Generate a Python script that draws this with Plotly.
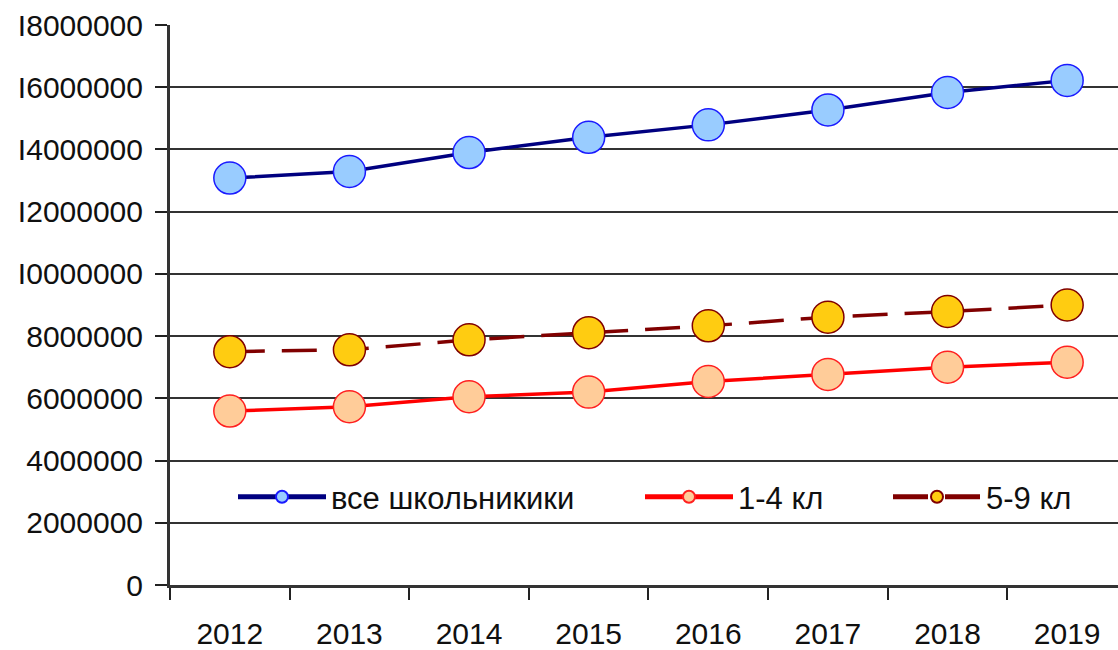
import plotly.graph_objects as go

years = ["2012", "2013", "2014", "2015", "2016", "2017", "2018", "2019"]
all_pupils = [13080000, 13290000, 13900000, 14390000, 14790000, 15270000, 15830000, 16220000]
grades_1_4 = [5590000, 5730000, 6050000, 6200000, 6540000, 6770000, 7000000, 7160000]
grades_5_9 = [7500000, 7560000, 7880000, 8110000, 8330000, 8610000, 8790000, 9000000]
names = ["все школьникики", "1-4 кл", "5-9 кл"]
y_tickvals = [0, 2000000, 4000000, 6000000, 8000000, 10000000, 12000000, 14000000, 16000000, 18000000]
y_ticktext = ["0", "2000000", "4000000", "6000000", "8000000", "I0000000", "I2000000", "I4000000", "I6000000", "I8000000"]

FONT = "Liberation Sans, Arial, sans-serif"
TXT = "#101010"

fig = go.Figure()
fig.add_trace(go.Scatter(
    x=years, y=all_pupils, name=names[0], mode="lines+markers", legend="legend", showlegend=True,
    line=dict(color="#000080", width=3.5),
    marker=dict(symbol="circle", size=32, color="#99CCFF", line=dict(color="#1a1aff", width=1.5)),
))
fig.add_trace(go.Scatter(
    x=years, y=grades_1_4, name=names[1], mode="lines+markers", legend="legend2", showlegend=True,
    line=dict(color="#FF0000", width=3.5),
    marker=dict(symbol="circle", size=32, color="#FFCC99", line=dict(color="#FF2020", width=1.5)),
))
fig.add_trace(go.Scatter(
    x=years, y=grades_5_9, name=names[2], mode="lines+markers", legend="legend3", showlegend=True,
    line=dict(color="#800000", width=3.5, dash="35px,17px"),
    marker=dict(symbol="circle", size=32, color="#FFCC11", line=dict(color="#800000", width=1.5)),
))

leg_common = dict(
    orientation="h", yanchor="middle", y=0.157, xanchor="left",
    bgcolor="rgba(0,0,0,0)", borderwidth=0, itemsizing="constant", itemwidth=88,
    font=dict(family=FONT, size=31, color=TXT), tracegroupgap=0, visible=True,
)

fig.update_layout(
    width=1118, height=650, showlegend=True,
    margin=dict(l=170, r=0, t=25, b=65),
    paper_bgcolor="white", plot_bgcolor="white",
    font=dict(family=FONT, size=30, color=TXT),
    legend=dict(x=(233 - 170) / 948, **leg_common),
    legend2=dict(x=(640 - 170) / 948, **leg_common),
    legend3=dict(x=(888 - 170) / 948, **leg_common),
    xaxis=dict(
        type="category", range=[-0.5, 7.425], tickson="boundaries",
        ticks="outside", ticklen=12, tickwidth=2, tickcolor="#222",
        showgrid=False, showline=True, linecolor="#333", linewidth=3,
        tickfont=dict(family=FONT, size=30, color=TXT), ticklabelstandoff=20,
        zeroline=False,
    ),
    yaxis=dict(
        range=[0, 18000000], tickvals=y_tickvals, ticktext=y_ticktext,
        ticks="outside", ticklen=12, tickwidth=2, tickcolor="#222",
        showgrid=True, gridcolor="#333", gridwidth=2,
        showline=True, linecolor="#333", linewidth=3,
        tickfont=dict(family=FONT, size=30, color=TXT), ticklabelstandoff=6,
        zeroline=False,
    ),
)

fig.write_html("out.html", config={"displayModeBar": False},
               post_script="document.body.style.margin='0px';")
